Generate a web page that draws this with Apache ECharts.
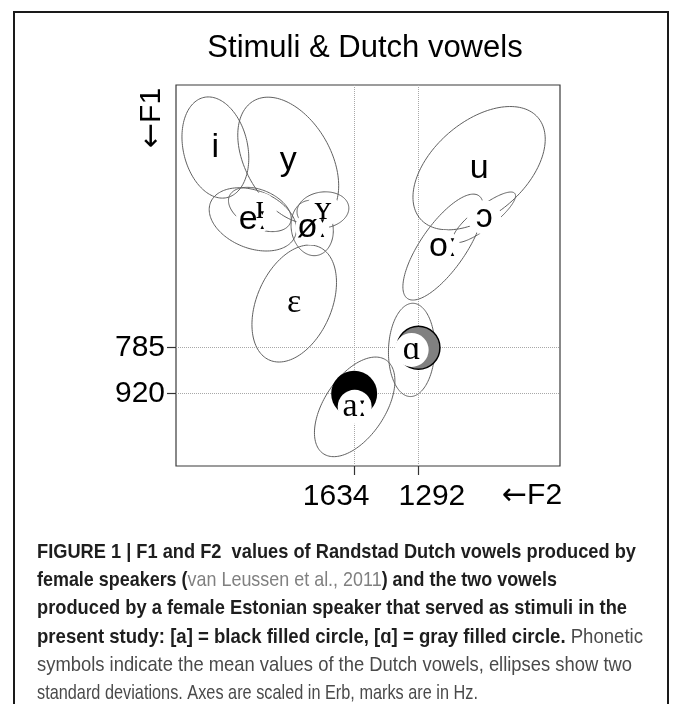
<!DOCTYPE html>
<html>
<head>
<meta charset="UTF-8">
<title>Stimuli &amp; Dutch vowels</title>
<style type="text/css">
    html, body { margin:0; padding:0; background:#fff; }
    #main { width:673px; height:704px; }
</style>
</head>
<body>
<div id="main"></div>
<script type="text/javascript" src="https://cdn.jsdelivr.net/npm/echarts@6.0.0/dist/echarts.min.js"></script>
<script type="text/javascript">
// Dutch vowel means (Hz) and spread (Erb)
var vowels   = ['i', 'y', 'eː', 'ɪ', 'øː', 'ʏ', 'ɛ', 'u', 'ɔ', 'oː', 'ɑ', 'aː'];
var f1Hz     = [359, 380, 486, 467, 503, 468, 670, 393, 482, 542, 791, 962];
var f2Hz     = [2658, 2065, 2336, 2280, 1898, 1827, 2022, 1027, 1007, 1178, 1325, 1631];
var sdF1Erb  = [0.64, 0.80, 0.40, 0.28, 0.35, 0.23, 0.74, 0.78, 0.32, 0.67, 0.59, 0.63];
var sdF2Erb  = [0.49, 0.74, 0.64, 0.46, 0.31, 0.38, 0.62, 0.97, 0.46, 0.59, 0.34, 0.59];
var corrF1F2 = [-0.21, -0.40, -0.31, -0.40, -0.10, 0.10, 0.36, 0.47, 0.85, 0.75, 0.05, 0.52];

// Estonian stimuli
var stimuli = ['a', 'ɑ'];
var stimF1  = [920, 785];
var stimF2  = [1634, 1292];

// axis marks and limits (Hz)
var f1Ticks = [785, 920];
var f2Ticks = [1634, 1292];
var f1Range = [267, 1170];
var f2Range = [744, 3040];

var SANS = 'Liberation Sans, Arial, Helvetica, sans-serif';
var SERIF = 'Liberation Serif, DejaVu Serif, serif';
var ARROW = 'DejaVu Sans, sans-serif';
var serifVowels = ['ɪ', 'ʏ', 'ɛ', 'ɑ', 'aː'];
var stimSize = [46, 43];
var stimStyle = [
    {color: '#000', opacity: 1},
    {color: '#808080', borderColor: '#000', borderWidth: 1.5, opacity: 1}
];

function erb(f) {
    return 21.4 * Math.log10(1 + 0.00437 * f);
}

function findTick(list, v) {
    for (var i = 0; i < list.length; i++) {
        if (Math.abs(erb(list[i]) - v) < 1e-6) return i;
    }
    return -1;
}

// caption lines: [style, text] pieces
var capLines = [
    [['b', 'FIGURE 1 | F1 and F2  values of Randstad Dutch vowels produced by']],
    [['b', 'female speakers ('], ['l', 'van Leussen et al., 2011'], ['b', ') and the two vowels']],
    [['b', 'produced by a female Estonian speaker that served as stimuli in the']],
    [['b', 'present study: [a] = black filled circle, [ɑ] = gray filled circle.'], ['r', ' Phonetic']],
    [['r', 'symbols indicate the mean values of the Dutch vowels, ellipses show two']],
    [['r', 'standard deviations. Axes are scaled in Erb, marks are in Hz.']]
];
var capLeft = 37, capTop = 552, capStep = 28.3, capSize = 21;
var capRight = [636, 557, 627, 643, 632, 478];
var capFonts = {
    b: 'bold ' + capSize + 'px ' + SANS,
    r: capSize + 'px ' + SANS,
    l: capSize + 'px ' + SANS
};
var capRich = {
    b: {fontWeight: 'bold', fontSize: capSize, fontFamily: SANS, fill: '#1e1e1e'},
    r: {fontSize: capSize, fontFamily: SANS, fill: '#4a4a4a'},
    l: {fontSize: capSize, fontFamily: SANS, fill: '#808080'}
};
var axisNameRich = {
    a: {fontSize: 30, fontFamily: ARROW, fill: '#000'},
    f: {fontSize: 30, fontFamily: SANS, fill: '#000'}
};

var ctx = document.createElement('canvas').getContext('2d');
var graphics = [
    {type: 'rect', silent: true, z: 0,
        shape: {x: 14, y: 12, width: 654, height: 720},
        style: {fill: 'none', stroke: '#1a1a1a', lineWidth: 2}},
    {type: 'text', x: 365, y: 48, silent: true,
        style: {text: 'Stimuli & Dutch vowels', fontSize: 31, fontFamily: SANS, fill: '#000',
            align: 'center', verticalAlign: 'middle'}},
    {type: 'text', x: 532, y: 496, silent: true,
        style: {text: '{a|←}{f|F2}', rich: axisNameRich,
            align: 'center', verticalAlign: 'middle'}},
    {type: 'text', x: 152, y: 118, rotation: Math.PI / 2, silent: true,
        style: {text: '{a|←}{f|F1}', rich: axisNameRich,
            align: 'center', verticalAlign: 'middle'}}
];
capLines.forEach(function (line, i) {
    var w = 0, str = '';
    line.forEach(function (p) {
        ctx.font = capFonts[p[0]];
        w += ctx.measureText(p[1]).width;
        str += '{' + p[0] + '|' + p[1] + '}';
    });
    graphics.push({
        type: 'text', x: capLeft, y: capTop + i * capStep, silent: true,
        scaleX: (capRight[i] - capLeft) / w,
        style: {text: str, rich: capRich, align: 'left', verticalAlign: 'middle'}
    });
});

var myChart = echarts.init(document.getElementById('main'), null, {renderer: 'canvas'});
var option = {
    animation: false,
    backgroundColor: '#fff',
    grid: {
        left: 176, top: 85, width: 384, height: 381,
        show: true, borderColor: '#3a3a3a', borderWidth: 1.2,
        containLabel: false, outerBoundsMode: 'none'
    },
    xAxis: {
        type: 'value', inverse: true,
        min: erb(f2Range[0]), max: erb(f2Range[1]),
        axisLine: {show: false},
        splitLine: {show: true, lineStyle: {color: '#a8a8a8', type: 'dotted', width: 1}},
        axisTick: {show: true, customValues: f2Ticks.map(erb), length: 9,
            lineStyle: {color: '#333', width: 1.2}},
        axisLabel: {
            customValues: f2Ticks.map(erb), margin: 16,
            formatter: function (v) {
                var k = findTick(f2Ticks, v);
                return '{t' + k + '|' + f2Ticks[k] + '}';
            },
            rich: {
                t0: {fontSize: 30, fontFamily: SANS, color: '#000', padding: [0, 36, 0, 0]},
                t1: {fontSize: 30, fontFamily: SANS, color: '#000', padding: [0, 0, 0, 27]}
            }
        }
    },
    yAxis: {
        type: 'value', inverse: true,
        min: erb(f1Range[0]), max: erb(f1Range[1]),
        axisLine: {show: false},
        splitLine: {show: true, lineStyle: {color: '#a8a8a8', type: 'dotted', width: 1}},
        axisTick: {show: true, customValues: f1Ticks.map(erb), length: 9,
            lineStyle: {color: '#333', width: 1.2}},
        axisLabel: {
            customValues: f1Ticks.map(erb), margin: 11,
            fontSize: 30, fontFamily: SANS, color: '#000',
            formatter: function (v) {
                return String(f1Ticks[findTick(f1Ticks, v)]);
            }
        }
    },
    graphic: graphics,
    series: [
        {
            // two-SD ellipses
            type: 'custom', coordinateSystem: 'cartesian2d', silent: true, z: 1,
            encode: {x: 0, y: 1},
            data: vowels.map(function (v, i) {
                return [erb(f2Hz[i]), erb(f1Hz[i]), sdF2Erb[i], sdF1Erb[i], corrF1F2[i]];
            }),
            renderItem: function (params, api) {
                var cx = api.value(0), cy = api.value(1);
                var sx = api.value(2), sy = api.value(3), r = api.value(4);
                var q = Math.sqrt(1 - r * r);
                var pts = [];
                for (var k = 0; k < 144; k++) {
                    var t = k / 144 * 2 * Math.PI;
                    pts.push(api.coord([cx + 2 * sx * Math.cos(t),
                        cy + 2 * sy * (r * Math.cos(t) + q * Math.sin(t))]));
                }
                return {type: 'polygon', shape: {points: pts},
                    style: {fill: 'none', stroke: '#606060', lineWidth: 1}};
            }
        },
        {
            // stimuli
            type: 'scatter', symbol: 'circle', silent: true, z: 2,
            data: stimuli.map(function (s, i) {
                return {name: s, value: [erb(stimF2[i]), erb(stimF1[i])],
                    symbolSize: stimSize[i], itemStyle: stimStyle[i]};
            })
        },
        {
            // white backing under vowel symbols
            type: 'scatter', symbol: 'circle', symbolSize: 34, silent: true, z: 3,
            itemStyle: {color: '#fff', opacity: 1},
            data: vowels.map(function (v, i) {
                return [erb(f2Hz[i]), erb(f1Hz[i])];
            })
        },
        {
            // vowel symbols
            type: 'custom', coordinateSystem: 'cartesian2d', silent: true, z: 4,
            encode: {x: 0, y: 1},
            data: vowels.map(function (v, i) {
                return [erb(f2Hz[i]), erb(f1Hz[i]), i];
            }),
            renderItem: function (params, api) {
                var p = api.coord([api.value(0), api.value(1)]);
                var name = vowels[api.value(2)];
                var serif = serifVowels.indexOf(name) >= 0;
                return {type: 'text', x: p[0], y: p[1],
                    style: {text: name, fontSize: 34, fontFamily: serif ? SERIF : SANS,
                        fill: '#000', align: 'center', verticalAlign: 'middle'}};
            }
        }
    ]
};
myChart.setOption(option);
</script>
</body>
</html>
